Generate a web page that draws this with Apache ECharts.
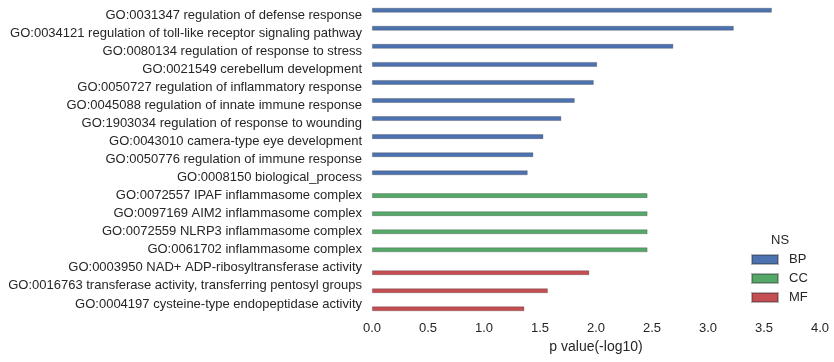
<!DOCTYPE html>
<html><head><meta charset="utf-8">
<script src="https://cdn.jsdelivr.net/npm/echarts@6/dist/echarts.min.js"></script>
<style>html,body{margin:0;padding:0;background:#fff}#c{width:834px;height:362px}</style>
</head><body><div id="c"></div>
<script>
const categories = [
  "GO:0031347 regulation of defense response",
  "GO:0034121 regulation of toll-like receptor signaling pathway",
  "GO:0080134 regulation of response to stress",
  "GO:0021549 cerebellum development",
  "GO:0050727 regulation of inflammatory response",
  "GO:0045088 regulation of innate immune response",
  "GO:1903034 regulation of response to wounding",
  "GO:0043010 camera-type eye development",
  "GO:0050776 regulation of immune response",
  "GO:0008150 biological_process",
  "GO:0072557 IPAF inflammasome complex",
  "GO:0097169 AIM2 inflammasome complex",
  "GO:0072559 NLRP3 inflammasome complex",
  "GO:0061702 inflammasome complex",
  "GO:0003950 NAD+ ADP-ribosyltransferase activity",
  "GO:0016763 transferase activity, transferring pentosyl groups",
  "GO:0004197 cysteine-type endopeptidase activity"
];
const namespaces = ["BP", "CC", "MF"];
const bpValues = [3.57, 3.23, 2.69, 2.01, 1.98, 1.81, 1.69, 1.53, 1.44, 1.39, null, null, null, null, null, null, null];
const ccValues = [null, null, null, null, null, null, null, null, null, null, 2.46, 2.46, 2.46, 2.46, null, null, null];
const mfValues = [null, null, null, null, null, null, null, null, null, null, null, null, null, null, 1.94, 1.57, 1.36];
const xTicks = [0, 0.5, 1.0, 1.5, 2.0, 2.5, 3.0, 3.5, 4.0];

const colors = {BP: "#4c72b0", CC: "#55a868", MF: "#c44e52"};
const font = "Liberation Sans, Arial, sans-serif";
const chart = echarts.init(document.getElementById('c'));
const mk = (name, data) => ({
  name, type: 'bar', data,
  barGap: '0%', barCategoryGap: '20%',
  itemStyle: {color: colors[name], borderColor: 'rgba(40,40,40,0.35)', borderWidth: 0.8},
  emphasis: {disabled: true}
});
chart.setOption({
  animation: false,
  textStyle: {fontFamily: font},
  grid: {left: 372, right: 14, top: 6, bottom: 49, containLabel: false},
  xAxis: {
    type: 'value', min: xTicks[0], max: xTicks[xTicks.length - 1], interval: 0.5,
    name: 'p value(-log10)', nameLocation: 'middle', nameGap: 26,
    nameTextStyle: {color: '#262626', fontSize: 14, fontFamily: font},
    axisLine: {show: false}, axisTick: {show: false}, splitLine: {show: false},
    axisLabel: {color: '#262626', fontSize: 13, fontFamily: font, margin: 9,
      formatter: v => v.toFixed(1)}
  },
  yAxis: {
    type: 'category', data: categories, inverse: true,
    axisLine: {show: false}, axisTick: {show: false}, splitLine: {show: false},
    axisLabel: {color: '#262626', fontSize: 13, fontFamily: font, margin: 10}
  },
  legend: {
    orient: 'vertical', left: 746, top: 248, itemWidth: 26, itemHeight: 9, itemGap: 6,
    data: namespaces, icon: 'rect',
    textStyle: {color: '#262626', fontSize: 13, fontFamily: font, padding: [0, 0, 0, 6]}
  },
  graphic: [{type: 'text', left: 771, top: 234,
    style: {text: 'NS', fill: '#262626', font: '13px ' + font}}],
  series: [mk('BP', bpValues), mk('CC', ccValues), mk('MF', mfValues)]
});
</script></body></html>
